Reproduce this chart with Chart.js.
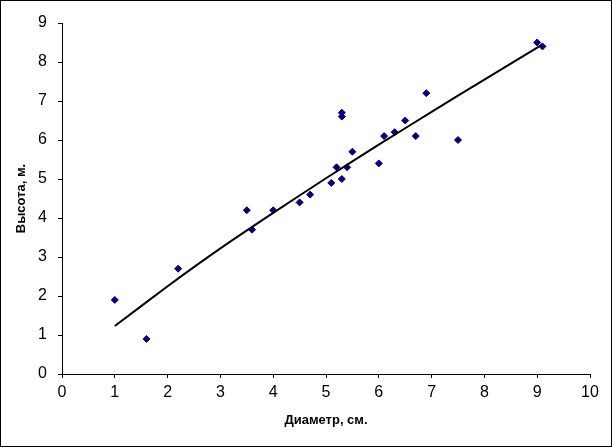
<!DOCTYPE html>
<html lang="ru">
<head>
    <meta charset="UTF-8">
    <title>Высота и диаметр</title>
    <script src="https://cdn.jsdelivr.net/npm/chart.js"></script>
    <style>
        html, body {
            margin: 0;
            padding: 0;
            background: #fff;
        }
        #wrap {
            width: 610px;
            height: 445px;
            border: 1px solid #000; /* рамка вокруг диаграммы */
        }
    </style>
</head>
<body>
    <div id="wrap">
        <canvas id="treeChart" width="610" height="445"></canvas>
    </div>

    <script>
        // Измерения: диаметр (см) и высота (м)
        const diameters = [1.0, 1.6, 2.2, 3.5, 3.6, 4.0, 4.5, 4.7, 5.1, 5.2, 5.3, 5.3, 5.3, 5.4, 5.5, 6.0, 6.1, 6.3, 6.5, 6.7, 6.9, 7.5, 9.0, 9.1];
        const heights   = [1.9, 0.9, 2.7, 4.2, 3.7, 4.2, 4.4, 4.6, 4.9, 5.3, 5.0, 6.7, 6.6, 5.3, 5.7, 5.4, 6.1, 6.2, 6.5, 6.1, 7.2, 6.0, 8.5, 8.4];

        // Линия тренда
        const trendX = [1.0, 2.0, 3.0, 4.0, 5.0, 6.0, 7.0, 8.0, 9.0, 9.1];
        const trendY = [1.23, 2.25, 3.22, 4.13, 5.02, 5.88, 6.72, 7.55, 8.37, 8.45];

        const xTicks = [0, 1, 2, 3, 4, 5, 6, 7, 8, 9, 10];
        const yTicks = [0, 1, 2, 3, 4, 5, 6, 7, 8, 9];

        const fontFamily = '"Liberation Sans", Arial, sans-serif';

        const points = diameters.map((d, i) => ({ x: d, y: heights[i] }));
        const trend = trendX.map((d, i) => ({ x: d, y: trendY[i] }));

        const ctx = document.getElementById('treeChart').getContext('2d');
        new Chart(ctx, {
            type: 'scatter',
            data: {
                datasets: [
                    {
                        data: trend,
                        showLine: true,
                        borderColor: '#000',
                        borderWidth: 2,
                        pointRadius: 0,
                        tension: 0.2
                    },
                    {
                        data: points,
                        pointStyle: 'rectRot',
                        pointRadius: 3.5,
                        backgroundColor: '#000080',
                        borderColor: '#000080',
                        borderWidth: 1
                    }
                ]
            },
            options: {
                responsive: false,
                animation: false,
                layout: {
                    padding: { left: 0, right: 21, top: 22, bottom: 0 }
                },
                plugins: {
                    legend: { display: false },
                    tooltip: { enabled: false }
                },
                scales: {
                    x: {
                        type: 'linear',
                        min: 0,
                        max: 10,
                        afterBuildTicks: (s) => { s.ticks = xTicks.map(v => ({ value: v })); },
                        afterFit: (s) => { s.height = 72; },
                        grid: { drawOnChartArea: false, drawTicks: true, tickLength: 4, color: '#000' },
                        border: { display: true, color: '#000', width: 1 },
                        ticks: {
                            color: '#000',
                            padding: 5,
                            font: { family: fontFamily, size: 16 }
                        },
                        title: {
                            display: true,
                            text: 'Диаметр, см.',
                            color: '#000',
                            padding: { top: 0, bottom: 18 },
                            font: { family: fontFamily, size: 13, weight: 'bold' }
                        }
                    },
                    y: {
                        type: 'linear',
                        min: 0,
                        max: 9,
                        afterBuildTicks: (s) => { s.ticks = yTicks.map(v => ({ value: v })); },
                        afterFit: (s) => { s.width = 61; },
                        grid: { drawOnChartArea: false, drawTicks: true, tickLength: 4, color: '#000' },
                        border: { display: true, color: '#000', width: 1 },
                        ticks: {
                            color: '#000',
                            padding: 11,
                            font: { family: fontFamily, size: 16 }
                        },
                        title: {
                            display: true,
                            text: 'Высота, м.',
                            color: '#000',
                            padding: { top: 13, bottom: 0 },
                            font: { family: fontFamily, size: 13, weight: 'bold' }
                        }
                    }
                }
            }
        });
    </script>
</body>
</html>
